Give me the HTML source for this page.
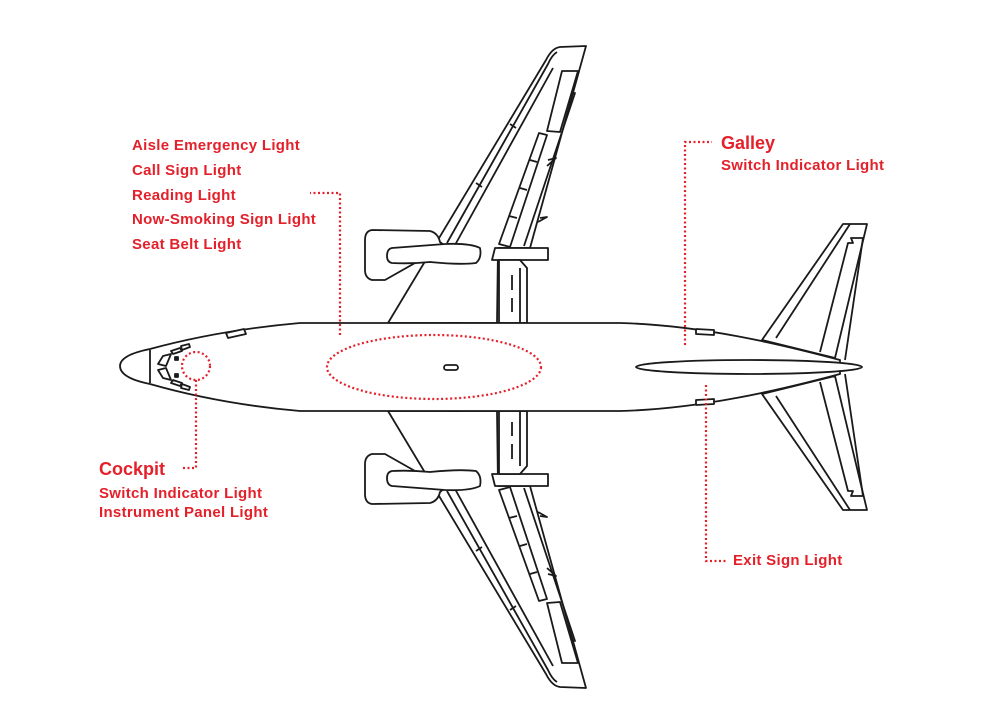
<!DOCTYPE html>
<html><head><meta charset="utf-8"><style>
html,body{margin:0;padding:0;background:#fff}
svg{display:block}
text{font-family:"Liberation Sans",sans-serif;font-weight:bold;fill:#e4202a}
</style></head><body>
<svg width="999" height="709" viewBox="0 0 999 709" xmlns="http://www.w3.org/2000/svg">
<defs>
<g id="wing" fill="#fff" stroke="#1a1a1a" stroke-width="1.8" stroke-linejoin="round">
  <path d="M388,323 L546,60 Q552,48 560,47 L586,46 L530,248 L498,248 L497,323 Z"/>
  <path d="M447,243 L548,64 Q552,55 557,52" fill="none"/>
  <path d="M455,245 L553,68" fill="none"/>
  <line x1="510" y1="124" x2="516" y2="128"/>
  <line x1="476" y1="183" x2="482" y2="187"/>
  <path d="M562,71 L578,71 L560,132 L547,131 Z"/>
  <path d="M571,94 L575,93 L524,246" fill="none"/>
  <path d="M539,133 L547,135 L510,247 L499,244 Z"/>
  <line x1="530" y1="160" x2="537" y2="162"/>
  <line x1="520" y1="188" x2="527" y2="190"/>
  <line x1="509" y1="216" x2="517" y2="218"/>
  <path d="M548,160 L556,158 L547,166" fill="none"/>
  <path d="M540,218 L547,217 L538,222" fill="none"/>
  <path d="M495,248 L548,248 L548,260 L492,260 Z"/>
  <path d="M499,260 L520,260 L527,268 L527,323 L499,323 Z"/>
  <line x1="520" y1="268" x2="520" y2="323"/>
  <line x1="512" y1="275" x2="512" y2="290"/>
  <line x1="512" y1="298" x2="512" y2="312"/>
  <path d="M372,230 L430,231 Q438,233 440,242 L445,246 L385,280 L372,280 Q365,278 365,270 L365,240 Q365,231 372,230 Z"/>
  <path d="M392,248 Q420,246 445,244 Q470,243 480,248 Q482,258 476,263 Q460,265 430,262 Q410,264 392,263 Q387,262 387,256 Q387,249 392,248 Z"/>
  <rect x="448" y="323" width="12" height="4"/>
</g>
</defs>
<use href="#wing"/>
<use href="#wing" transform="translate(0,734) scale(1,-1)"/>
<g fill="#fff" stroke="#1a1a1a" stroke-width="1.8" stroke-linejoin="round">
  <path d="M762,340 L843,224 L867,224 L835,358 Z"/>
  <line x1="776" y1="338" x2="850" y2="224"/>
  <path d="M820,352 L848,243 L853,243 L851,238 L863,238 L845,360" fill="none"/>
  <path d="M762,394 L843,510 L867,510 L835,376 Z"/>
  <line x1="776" y1="396" x2="850" y2="510"/>
  <path d="M820,382 L848,491 L853,491 L851,496 L863,496 L845,374" fill="none"/>
  <path d="M150,349 Q220,330 300,323 L620,323 C700,325 780,344 840,360 L840,374 C780,390 700,409 620,411 L300,411 Q220,404 150,384 Q120,378 120,366 Q120,355 150,349 Z"/>
  <line x1="150" y1="350" x2="150" y2="383"/>
  <ellipse cx="749" cy="367" rx="113" ry="7"/>
  <path d="M226,333 L244,329 L246,334 L228,338 Z"/>
  <path d="M696,329 L714,330 L714,335 L696,334 Z"/>
  <path d="M696,405 L714,404 L714,399 L696,400 Z"/>
  <rect x="444" y="365" width="14" height="5" rx="2.5"/>
  <path d="M163,356 L171,354 L166,366 L158,364 Z"/>
  <path d="M163,378 L171,380 L166,368 L158,370 Z"/>
  <path d="M171,351 L180,348 L182,351 L173,354 Z"/>
  <path d="M181,346 L189,344 L190,347 L182,350 Z"/>
  <path d="M171,383 L180,386 L182,383 L173,380 Z"/>
  <path d="M181,388 L189,390 L190,387 L182,384 Z"/>
  <rect x="175" y="357" width="3" height="3" fill="#1a1a1a"/>
  <rect x="175" y="374" width="3" height="3" fill="#1a1a1a"/>
</g>
<g fill="none" stroke="#e4202a" stroke-width="2.2" stroke-dasharray="2,2.5">
  <circle cx="196" cy="366" r="14"/>
  <polyline points="196,380 196,468 183,468"/>
  <ellipse cx="434" cy="367" rx="107" ry="32"/>
  <polyline points="340,335 340,193 310,193"/>
  <polyline points="685,345 685,142 712,142"/>
  <polyline points="706,385 706,561 726,561"/>
</g>
<g font-size="15" letter-spacing="0.3">
  <text x="132" y="150">Aisle Emergency Light</text>
  <text x="132" y="175">Call Sign Light</text>
  <text x="132" y="200">Reading Light</text>
  <text x="132" y="224">Now-Smoking Sign Light</text>
  <text x="132" y="249">Seat Belt Light</text>
  <text x="721" y="170">Switch Indicator Light</text>
  <text x="99" y="498">Switch Indicator Light</text>
  <text x="99" y="517">Instrument Panel Light</text>
  <text x="733" y="565">Exit Sign Light</text>
</g>
<text x="721" y="149" font-size="18">Galley</text>
<text x="99" y="475" font-size="18">Cockpit</text>
</svg>
</body></html>
